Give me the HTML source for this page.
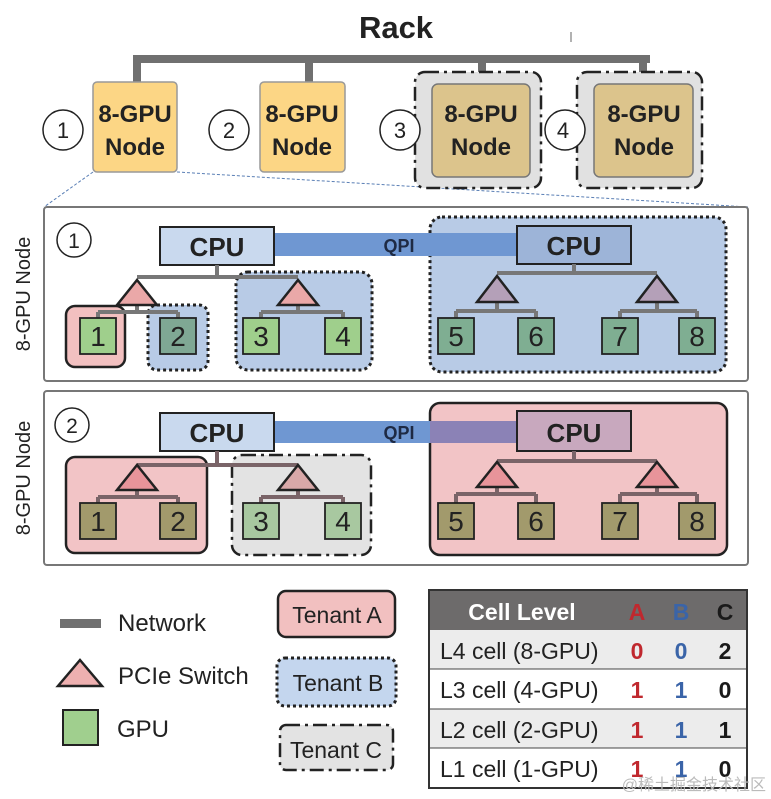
<!DOCTYPE html>
<html><head><meta charset="utf-8"><style>
html,body{margin:0;padding:0;background:#fff}
svg{display:block}
text{font-family:"Liberation Sans","DejaVu Sans",sans-serif}
</style></head><body>
<svg width="771" height="799" viewBox="0 0 771 799" xmlns="http://www.w3.org/2000/svg">
<!-- Rack -->
<text x="396" y="38" font-size="31" font-weight="bold" text-anchor="middle" fill="#222">Rack</text>
<line x1="571" y1="32" x2="571" y2="42" stroke="#666" stroke-width="1"/>
<g fill="#707070">
<rect x="133" y="55" width="517" height="8"/>
<rect x="133" y="55" width="8" height="28"/>
<rect x="305" y="55" width="8" height="28"/>
<rect x="478" y="55" width="8" height="30"/>
<rect x="639" y="55" width="8" height="30"/>
</g>
<line x1="93" y1="172" x2="44" y2="207" stroke="#5a7fb5" stroke-width="1" stroke-dasharray="3,2"/>
<line x1="177" y1="172" x2="748" y2="207" stroke="#5a7fb5" stroke-width="1" stroke-dasharray="3,2"/>
<rect x="93" y="82" width="84" height="90" rx="4" fill="#fcd685" stroke="#999" stroke-width="1.5"/>
<rect x="260" y="82" width="85" height="90" rx="4" fill="#fcd685" stroke="#999" stroke-width="1.5"/>
<rect x="415" y="72" width="126" height="116" rx="10" fill="#e1e1e1" stroke="#222" stroke-width="2.5" stroke-dasharray="14,5,3,5"/>
<rect x="432" y="84" width="98" height="93" rx="6" fill="#dcc48c" stroke="#777" stroke-width="1.5"/>
<rect x="577" y="72" width="125" height="116" rx="10" fill="#e1e1e1" stroke="#222" stroke-width="2.5" stroke-dasharray="14,5,3,5"/>
<rect x="594" y="84" width="99" height="93" rx="6" fill="#dcc48c" stroke="#777" stroke-width="1.5"/>
<g font-size="24" font-weight="bold" fill="#222" text-anchor="middle">
<text x="135" y="122">8-GPU</text><text x="135" y="155">Node</text>
<text x="302" y="122">8-GPU</text><text x="302" y="155">Node</text>
<text x="481" y="122">8-GPU</text><text x="481" y="155">Node</text>
<text x="644" y="122">8-GPU</text><text x="644" y="155">Node</text>
</g>
<g fill="#fff" stroke="#222" stroke-width="1.5">
<circle cx="63" cy="130" r="20"/><circle cx="229" cy="130" r="20"/>
<circle cx="400" cy="130" r="20"/><circle cx="565" cy="130" r="20"/>
</g>
<g font-size="22" fill="#222" text-anchor="middle">
<text x="63" y="138">1</text><text x="229" y="138">2</text><text x="400" y="138">3</text><text x="563" y="138">4</text>
</g>

<!-- Panel 1 -->
<rect x="44" y="207" width="704" height="174" rx="3" fill="#fff" stroke="#777" stroke-width="2"/>
<text transform="translate(30,294) rotate(-90)" font-size="20" text-anchor="middle" fill="#222">8-GPU Node</text>
<circle cx="74" cy="240" r="17" fill="#fff" stroke="#222" stroke-width="1.5"/>
<text x="74" y="248" font-size="21" text-anchor="middle" fill="#222">1</text>
<rect x="430" y="217" width="296" height="155" rx="12" fill="#b8cbe6" stroke="#222" stroke-width="3" stroke-dasharray="3,3"/>
<rect x="274" y="233" width="243" height="23" fill="#6f97d2"/>
<text x="399" y="252" font-size="18" font-weight="bold" text-anchor="middle" fill="#1e2a44">QPI</text>
<rect x="66" y="306" width="59" height="61" rx="9" fill="#f2c0c0" stroke="#222" stroke-width="2.5"/>
<rect x="148" y="305" width="60" height="65" rx="9" fill="#b8cbe6" stroke="#222" stroke-width="3" stroke-dasharray="3,3"/>
<rect x="236" y="272" width="136" height="98" rx="12" fill="#b8cbe6" stroke="#222" stroke-width="3" stroke-dasharray="3,3"/>
<rect x="160" y="227" width="114" height="38" fill="#c9d9ee" stroke="#222" stroke-width="2"/>
<rect x="517" y="226" width="114" height="38" fill="#9db4d8" stroke="#222" stroke-width="2"/>
<text x="217" y="256" font-size="26" font-weight="bold" text-anchor="middle" fill="#222">CPU</text>
<text x="574" y="255" font-size="26" font-weight="bold" text-anchor="middle" fill="#222">CPU</text>
<g stroke="#777" stroke-width="4" fill="none">
<path d="M217 265V277M137 277H298"/><path d="M137 305V312M98 312H178M98 312V318M178 312V318"/>
<path d="M298 305V312M261 312H343M261 312V318M343 312V318"/>
<path d="M574 264V273M497 273H657"/><path d="M497 302V311M456 311H536M456 311V318M536 311V318"/>
<path d="M657 302V311M620 311H697M620 311V318M697 311V318"/>
</g>
<g stroke="#222" stroke-width="2.5">
<polygon points="137,280 117,305 157,305" fill="#eaa8a8"/>
<polygon points="298,280 278,305 318,305" fill="#eaa8a8"/>
<polygon points="497,276 477,302 517,302" fill="#b4a0b8"/>
<polygon points="657,276 637,302 677,302" fill="#b4a0b8"/>
</g>
<g stroke="#222" stroke-width="1.8">
<rect x="80" y="318" width="36" height="36" fill="#9fcf8c"/>
<rect x="160" y="318" width="36" height="36" fill="#7fa894"/>
<rect x="243" y="318" width="36" height="36" fill="#9fcf8c"/>
<rect x="325" y="318" width="36" height="36" fill="#9fcf8c"/>
<rect x="438" y="318" width="36" height="36" fill="#7fae92"/>
<rect x="518" y="318" width="36" height="36" fill="#7fae92"/>
<rect x="602" y="318" width="36" height="36" fill="#7fae92"/>
<rect x="679" y="318" width="36" height="36" fill="#7fae92"/>
</g>
<g font-size="28" text-anchor="middle" fill="#222">
<text x="98" y="346">1</text><text x="178" y="346">2</text><text x="261" y="346">3</text><text x="343" y="346">4</text>
<text x="456" y="346">5</text><text x="536" y="346">6</text><text x="620" y="346">7</text><text x="697" y="346">8</text>
</g>

<!-- Panel 2 -->
<rect x="44" y="391" width="704" height="174" rx="3" fill="#fff" stroke="#777" stroke-width="2"/>
<text transform="translate(30,478) rotate(-90)" font-size="20" text-anchor="middle" fill="#222">8-GPU Node</text>
<circle cx="72" cy="425" r="17" fill="#fff" stroke="#222" stroke-width="1.5"/>
<text x="72" y="433" font-size="21" text-anchor="middle" fill="#222">2</text>
<rect x="430" y="403" width="297" height="152" rx="10" fill="#f2c4c6" stroke="#222" stroke-width="2.5"/>
<rect x="274" y="421" width="156" height="22" fill="#6f97d2"/>
<rect x="430" y="421" width="87" height="22" fill="#8b82b6"/>
<text x="399" y="439" font-size="18" font-weight="bold" text-anchor="middle" fill="#1e2a44">QPI</text>
<rect x="66" y="457" width="141" height="96" rx="9" fill="#f2c4c6" stroke="#222" stroke-width="2.5"/>
<rect x="232" y="455" width="139" height="100" rx="10" fill="#e3e3e3" stroke="#222" stroke-width="2.5" stroke-dasharray="14,5,3,5"/>
<rect x="160" y="413" width="114" height="38" fill="#c9d9ee" stroke="#222" stroke-width="2"/>
<rect x="517" y="411" width="114" height="40" fill="#c8a8be" stroke="#222" stroke-width="2"/>
<text x="217" y="442" font-size="26" font-weight="bold" text-anchor="middle" fill="#222">CPU</text>
<text x="574" y="442" font-size="26" font-weight="bold" text-anchor="middle" fill="#222">CPU</text>
<g stroke="#7a6468" stroke-width="4" fill="none">
<path d="M217 451V465M137 465H298"/><path d="M137 490V497M98 497H178M98 497V503M178 497V503"/>
<path d="M298 490V497M261 497H343M261 497V503M343 497V503"/>
<path d="M574 451V461M497 461H657"/><path d="M497 487V494M456 494H536M456 494V503M536 494V503"/>
<path d="M657 487V494M620 494H697M620 494V503M697 494V503"/>
</g>
<g stroke="#222" stroke-width="2.5">
<polygon points="137,465 117,490 157,490" fill="#e8949a"/>
<polygon points="298,465 278,490 318,490" fill="#d8a8a8"/>
<polygon points="497,462 477,487 517,487" fill="#e8949a"/>
<polygon points="657,462 637,487 677,487" fill="#e8949a"/>
</g>
<g stroke="#222" stroke-width="1.8">
<rect x="80" y="503" width="36" height="36" fill="#a29a6c"/>
<rect x="160" y="503" width="36" height="36" fill="#a29a6c"/>
<rect x="243" y="503" width="36" height="36" fill="#a8c8a0"/>
<rect x="325" y="503" width="36" height="36" fill="#a8c8a0"/>
<rect x="438" y="503" width="36" height="36" fill="#a29a6c"/>
<rect x="518" y="503" width="36" height="36" fill="#a29a6c"/>
<rect x="602" y="503" width="36" height="36" fill="#a29a6c"/>
<rect x="679" y="503" width="36" height="36" fill="#a29a6c"/>
</g>
<g font-size="28" text-anchor="middle" fill="#222">
<text x="98" y="531">1</text><text x="178" y="531">2</text><text x="261" y="531">3</text><text x="343" y="531">4</text>
<text x="456" y="531">5</text><text x="536" y="531">6</text><text x="620" y="531">7</text><text x="697" y="531">8</text>
</g>

<!-- Legend -->
<rect x="60" y="619" width="41" height="9" fill="#707070"/>
<text x="118" y="631" font-size="24" fill="#222">Network</text>
<polygon points="80,660 58,686 102,686" fill="#eeb0b0" stroke="#222" stroke-width="2.5"/>
<text x="118" y="684" font-size="24" fill="#222">PCIe Switch</text>
<rect x="63" y="710" width="35" height="35" fill="#a0cf8e" stroke="#222" stroke-width="2"/>
<text x="117" y="737" font-size="24" fill="#222">GPU</text>

<rect x="278" y="591" width="117" height="46" rx="8" fill="#f2c0c0" stroke="#222" stroke-width="2.5"/>
<text x="337" y="623" font-size="23" text-anchor="middle" fill="#222">Tenant A</text>
<rect x="277" y="658" width="119" height="48" rx="8" fill="#c4d6ee" stroke="#222" stroke-width="3" stroke-dasharray="3,3"/>
<text x="338" y="691" font-size="23" text-anchor="middle" fill="#222">Tenant B</text>
<rect x="280" y="725" width="113" height="45" rx="6" fill="#e3e3e3" stroke="#222" stroke-width="2.5" stroke-dasharray="14,5,3,5"/>
<text x="336" y="758" font-size="23" text-anchor="middle" fill="#222">Tenant C</text>

<!-- Table -->
<rect x="429" y="590" width="318" height="40" fill="#6d6b6b"/>
<rect x="429" y="630" width="318" height="39" fill="#ececec"/>
<rect x="429" y="669" width="318" height="40" fill="#fff"/>
<rect x="429" y="709" width="318" height="39" fill="#ececec"/>
<rect x="429" y="748" width="318" height="40" fill="#fff"/>
<g stroke="#444" stroke-width="1"><line x1="429" y1="669" x2="747" y2="669"/><line x1="429" y1="709" x2="747" y2="709"/><line x1="429" y1="748" x2="747" y2="748"/></g>
<rect x="429" y="590" width="318" height="198" fill="none" stroke="#333" stroke-width="2"/>
<g font-size="23" font-weight="bold">
<text x="522" y="620" text-anchor="middle" fill="#fff">Cell Level</text>
<text x="637" y="620" text-anchor="middle" fill="#c0282e">A</text>
<text x="681" y="620" text-anchor="middle" fill="#3a64a8">B</text>
<text x="725" y="620" text-anchor="middle" fill="#1a1a1a">C</text>
</g>
<g font-size="23" fill="#222">
<text x="440" y="659">L4 cell (8-GPU)</text>
<text x="440" y="698">L3 cell (4-GPU)</text>
<text x="440" y="738">L2 cell (2-GPU)</text>
<text x="440" y="777">L1 cell (1-GPU)</text>
</g>
<g font-size="23" font-weight="bold" text-anchor="middle">
<text x="637" y="659" fill="#c0282e">0</text><text x="681" y="659" fill="#3a64a8">0</text><text x="725" y="659" fill="#1a1a1a">2</text>
<text x="637" y="698" fill="#c0282e">1</text><text x="681" y="698" fill="#3a64a8">1</text><text x="725" y="698" fill="#1a1a1a">0</text>
<text x="637" y="738" fill="#c0282e">1</text><text x="681" y="738" fill="#3a64a8">1</text><text x="725" y="738" fill="#1a1a1a">1</text>
<text x="637" y="777" fill="#c0282e">1</text><text x="681" y="777" fill="#3a64a8">1</text><text x="725" y="777" fill="#1a1a1a">0</text>
</g>
<text x="766" y="790" font-size="16" text-anchor="end" fill="#bbb" font-family="'Liberation Sans','Noto Sans CJK SC',sans-serif">@稀土掘金技术社区</text>
</svg>
</body></html>
